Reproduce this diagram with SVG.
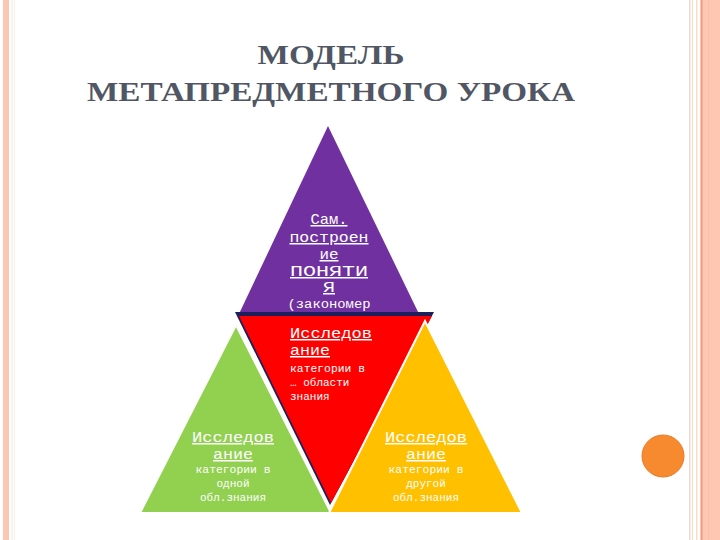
<svg xmlns="http://www.w3.org/2000/svg" width="720" height="540" viewBox="0 0 720 540">
  <style>
    .t{font-family:"Liberation Mono","DejaVu Sans Mono",monospace;fill:#ffffff;}
    .big{font-size:15px;text-decoration:underline;}
    .sm{font-size:11px;}
    .title{font-family:"Liberation Serif","DejaVu Serif",serif;fill:#505663;font-size:28px;font-weight:bold;text-anchor:middle;}
  </style>
  <rect width="720" height="540" fill="#ffffff"/>
  <g id="frame">
    <rect x="3" y="0" width="6" height="540" fill="#fcc6b1"/>
    <rect x="11.5" y="0" width="1" height="540" fill="#ece6f2"/>
    <rect x="14" y="0" width="1" height="540" fill="#f6f0dc"/>
    <rect x="689" y="0" width="1.5" height="540" fill="#f3d9c8"/>
    <rect x="692" y="0" width="1" height="540" fill="#f3d9c8"/>
    <rect x="696" y="0" width="1.5" height="540" fill="#f6dcca"/>
    <rect x="700" y="0" width="20" height="540" fill="#fdc7b2"/>
    <rect x="701" y="0" width="1.5" height="540" fill="#ee9e80"/>
    <rect x="708" y="0" width="1" height="540" fill="#fbbfa8"/>
    <circle cx="663" cy="456" r="21" fill="#f7892f" stroke="#e97a25" stroke-width="1"/>
  </g>
  <g id="title">
    <text class="title" x="331" y="64" textLength="147" lengthAdjust="spacingAndGlyphs">МОДЕЛЬ</text>
    <text class="title" x="331" y="101" textLength="488" lengthAdjust="spacingAndGlyphs">МЕТАПРЕДМЕТНОГО УРОКА</text>
  </g>
  <g id="purple">
    <polygon points="328,126 420,316 238,316" fill="#7030a0"/>
    <text class="t big" x="329" y="224" text-anchor="middle" textLength="37" lengthAdjust="spacingAndGlyphs">Сам.</text>
    <text class="t big" x="329" y="242" text-anchor="middle" textLength="79" lengthAdjust="spacingAndGlyphs">построен</text>
    <text class="t big" x="329" y="259" text-anchor="middle" textLength="19" lengthAdjust="spacingAndGlyphs">ие</text>
    <text class="t big" x="329" y="276" text-anchor="middle" textLength="78" lengthAdjust="spacingAndGlyphs">ПОНЯТИ</text>
    <text class="t big" x="329" y="292" text-anchor="middle" textLength="12" lengthAdjust="spacingAndGlyphs">Я</text>
    <text class="t" x="329" y="308" text-anchor="middle" font-size="12.5" textLength="83" lengthAdjust="spacingAndGlyphs">(закономер</text>
  </g>
  <g id="red">
    <polygon points="235,312 434,312 330,505" fill="#1d1f5c"/>
    <polygon points="239,316 432,316 331,503" fill="#ff0000"/>
    <text class="t big" x="290" y="338" textLength="82" lengthAdjust="spacingAndGlyphs">Исследов</text>
    <text class="t big" x="290" y="355" textLength="40" lengthAdjust="spacingAndGlyphs">ание</text>
    <text class="t sm" x="290" y="372" textLength="75" lengthAdjust="spacingAndGlyphs">категории в</text>
    <text class="t sm" x="290" y="386">… области</text>
    <text class="t sm" x="290" y="400">знания</text>
  </g>
  <g id="green">
    <polygon points="236,325 331,513 140,513" fill="#92d050" stroke="#ffffff" stroke-width="2"/>
    <text class="t big" x="233" y="442" text-anchor="middle" textLength="82" lengthAdjust="spacingAndGlyphs">Исследов</text>
    <text class="t big" x="233" y="459" text-anchor="middle" textLength="40" lengthAdjust="spacingAndGlyphs">ание</text>
    <text class="t sm" x="233" y="473" text-anchor="middle" textLength="75" lengthAdjust="spacingAndGlyphs">категории в</text>
    <text class="t sm" x="233" y="487" text-anchor="middle">одной</text>
    <text class="t sm" x="233" y="501" text-anchor="middle">обл.знания</text>
  </g>
  <g id="yellow">
    <polygon points="425,321 522,513 329,513" fill="#ffc000" stroke="#ffffff" stroke-width="2"/>
    <text class="t big" x="426" y="442" text-anchor="middle" textLength="82" lengthAdjust="spacingAndGlyphs">Исследов</text>
    <text class="t big" x="426" y="459" text-anchor="middle" textLength="40" lengthAdjust="spacingAndGlyphs">ание</text>
    <text class="t sm" x="426" y="473" text-anchor="middle" textLength="75" lengthAdjust="spacingAndGlyphs">категории в</text>
    <text class="t sm" x="426" y="487" text-anchor="middle">другой</text>
    <text class="t sm" x="426" y="501" text-anchor="middle">обл.знания</text>
  </g>
  <g id="connectors"></g>
</svg>
